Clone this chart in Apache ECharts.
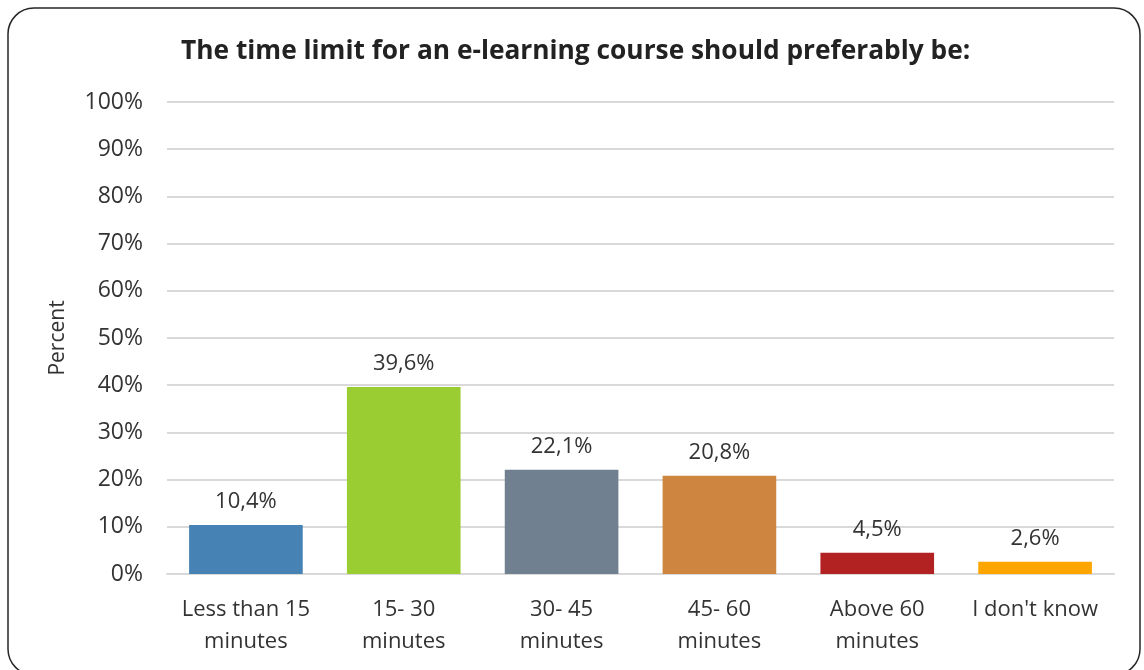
<!DOCTYPE html>
<html>
<head>
<meta charset="utf-8">
<script src="https://cdn.jsdelivr.net/npm/echarts@6/dist/echarts.min.js"></script>
<style>
  html, body { margin: 0; padding: 0; background: #fff; }
  #chart { width: 1144px; height: 670px; }
</style>
</head>
<body>
<div id="chart"></div>
<script>
const categories = ['Less than 15\nminutes', '15- 30\nminutes', '30- 45\nminutes', '45- 60\nminutes', 'Above 60\nminutes', "I don't know"]
const values = [10.4, 39.6, 22.1, 20.8, 4.5, 2.6]
const barColors = ['#4682B4', '#9ACD32', '#708090', '#CD853F', '#B22222', '#FFA500']

const font = '"Open Sans", "Liberation Sans", sans-serif'

const chart = echarts.init(document.getElementById('chart'), null, {renderer: 'canvas'})
chart.setOption({
  animation: false,
  textStyle: {fontFamily: font},
  // rounded frame, bottom edge runs just past the canvas
  graphic: [{
    type: 'rect',
    shape: {x: 8, y: 8, width: 1132, height: 667, r: 26},
    style: {fill: 'none', stroke: '#262626', lineWidth: 1.5},
    silent: true
  }],
  title: {
    text: 'The time limit for an e-learning course should preferably be:',
    left: 176,
    top: 34,
    textStyle: {fontFamily: font, fontSize: 26.3, fontWeight: 'bold', color: '#222'}
  },
  grid: {left: 167, right: 30, top: 102, bottom: 96},
  xAxis: {
    type: 'category',
    data: categories,
    axisTick: {show: false},
    axisLine: {lineStyle: {color: '#d9d9d9', width: 2}},
    axisLabel: {fontFamily: font, fontSize: 22, color: '#333', lineHeight: 32, margin: 20, interval: 0}
  },
  yAxis: {
    type: 'value',
    min: 0,
    max: 100,
    interval: 10,
    name: 'Percent',
    nameLocation: 'middle',
    nameGap: 98,
    nameTextStyle: {fontFamily: font, fontSize: 21, color: '#333'},
    axisLabel: {formatter: '{value}%', fontFamily: font, fontSize: 23, color: '#333', margin: 24},
    splitLine: {lineStyle: {color: '#d9d9d9', width: 2}}
  },
  series: [{
    type: 'bar',
    data: values.map((v, i) => ({value: v, itemStyle: {color: barColors[i]}})),
    barCategoryGap: '28%',
    label: {
      show: true,
      position: 'top',
      distance: 12,
      fontFamily: font,
      fontSize: 22,
      color: '#333',
      formatter: p => p.value.toFixed(1).replace('.', ',') + '%'
    }
  }]
})
</script>
</body>
</html>
